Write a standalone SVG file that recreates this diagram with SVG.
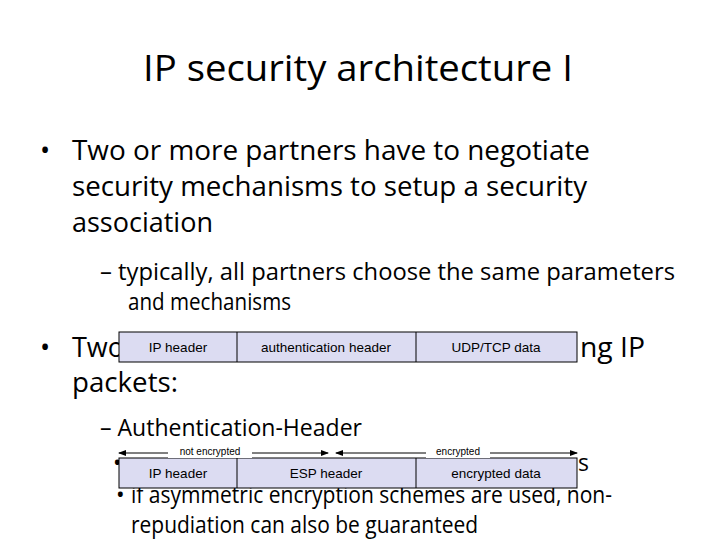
<svg xmlns="http://www.w3.org/2000/svg" width="720" height="540" viewBox="0 0 720 540">
<style>
.t{font-family:"Open Sans","Liberation Sans",sans-serif;fill:#000}
.b{font-size:27px}.s{font-size:23px}
.box{fill:#dcdcf2;stroke:#000;stroke-width:1}
.bl{font-family:"Liberation Sans",Arial,sans-serif;font-size:13.5px;fill:#000;text-anchor:middle}
.sm{font-family:"Liberation Sans",Arial,sans-serif;font-size:10px;fill:#000;text-anchor:middle}
.ar{stroke:#000;stroke-width:1;marker-start:url(#a);marker-end:url(#a)}
</style>
<defs><marker id="a" viewBox="0 0 8 6" refX="7" refY="3" markerWidth="8" markerHeight="6" orient="auto-start-reverse" markerUnits="userSpaceOnUse"><path d="M0,0L8,3L0,6z"/></marker></defs>
<rect width="720" height="540" fill="#fff"/>
<text class="t" x="358" y="81" font-size="36" text-anchor="middle" textLength="430" lengthAdjust="spacingAndGlyphs">IP security architecture I</text>
<text class="t b" x="40" y="160">•</text>
<text class="t b" x="72" y="160" textLength="518" lengthAdjust="spacingAndGlyphs">Two or more partners have to negotiate</text>
<text class="t b" x="72" y="196" textLength="515" lengthAdjust="spacingAndGlyphs">security mechanisms to setup a security</text>
<text class="t b" x="72" y="232" textLength="141" lengthAdjust="spacingAndGlyphs">association</text>
<text class="t s" x="100" y="280" textLength="575" lengthAdjust="spacingAndGlyphs">– typically, all partners choose the same parameters</text>
<text class="t s" x="128" y="310" textLength="163" lengthAdjust="spacingAndGlyphs">and mechanisms</text>
<text class="t b" x="40" y="357">•</text>
<text class="t b" x="72" y="357">Two</text>
<text class="t b" x="580" y="357" textLength="65" lengthAdjust="spacingAndGlyphs">ng IP</text>
<text class="t b" x="72" y="392" textLength="106" lengthAdjust="spacingAndGlyphs">packets:</text>
<text class="t s" x="100" y="436" textLength="262" lengthAdjust="spacingAndGlyphs">– Authentication-Header</text>
<text class="t s" x="113" y="471">•</text>
<text class="t s" x="578" y="471">s</text>
<text class="t s" x="116" y="503">•</text>
<text class="t s" x="131" y="503" textLength="481" lengthAdjust="spacingAndGlyphs">if asymmetric encryption schemes are used, non-</text>
<text class="t s" x="131" y="533" textLength="347" lengthAdjust="spacingAndGlyphs">repudiation can also be guaranteed</text>
<g id="ah">
<rect class="box" x="119" y="332" width="458" height="30"/>
<line x1="237" y1="332" x2="237" y2="362" stroke="#000"/><line x1="416" y1="332" x2="416" y2="362" stroke="#000"/>
<text class="bl" x="178" y="352">IP header</text>
<text class="bl" x="326" y="352">authentication header</text>
<text class="bl" x="496" y="352">UDP/TCP data</text>
</g>
<g id="esp">
<rect class="box" x="119" y="458" width="458" height="30"/>
<line x1="237" y1="458" x2="237" y2="488" stroke="#000"/><line x1="416" y1="458" x2="416" y2="488" stroke="#000"/>
<text class="bl" x="178" y="478">IP header</text>
<text class="bl" x="326" y="478">ESP header</text>
<text class="bl" x="496" y="478">encrypted data</text>
</g>
<g id="connectors">
<line class="ar" x1="119" y1="453" x2="328" y2="453"/>
<line class="ar" x1="336" y1="453" x2="577" y2="453"/>
<rect x="168" y="446" width="84" height="12" fill="#fff"/>
<text class="sm" x="210" y="455">not encrypted</text>
<rect x="426" y="446" width="64" height="12" fill="#fff"/>
<text class="sm" x="458" y="455">encrypted</text>
</g>
</svg>
